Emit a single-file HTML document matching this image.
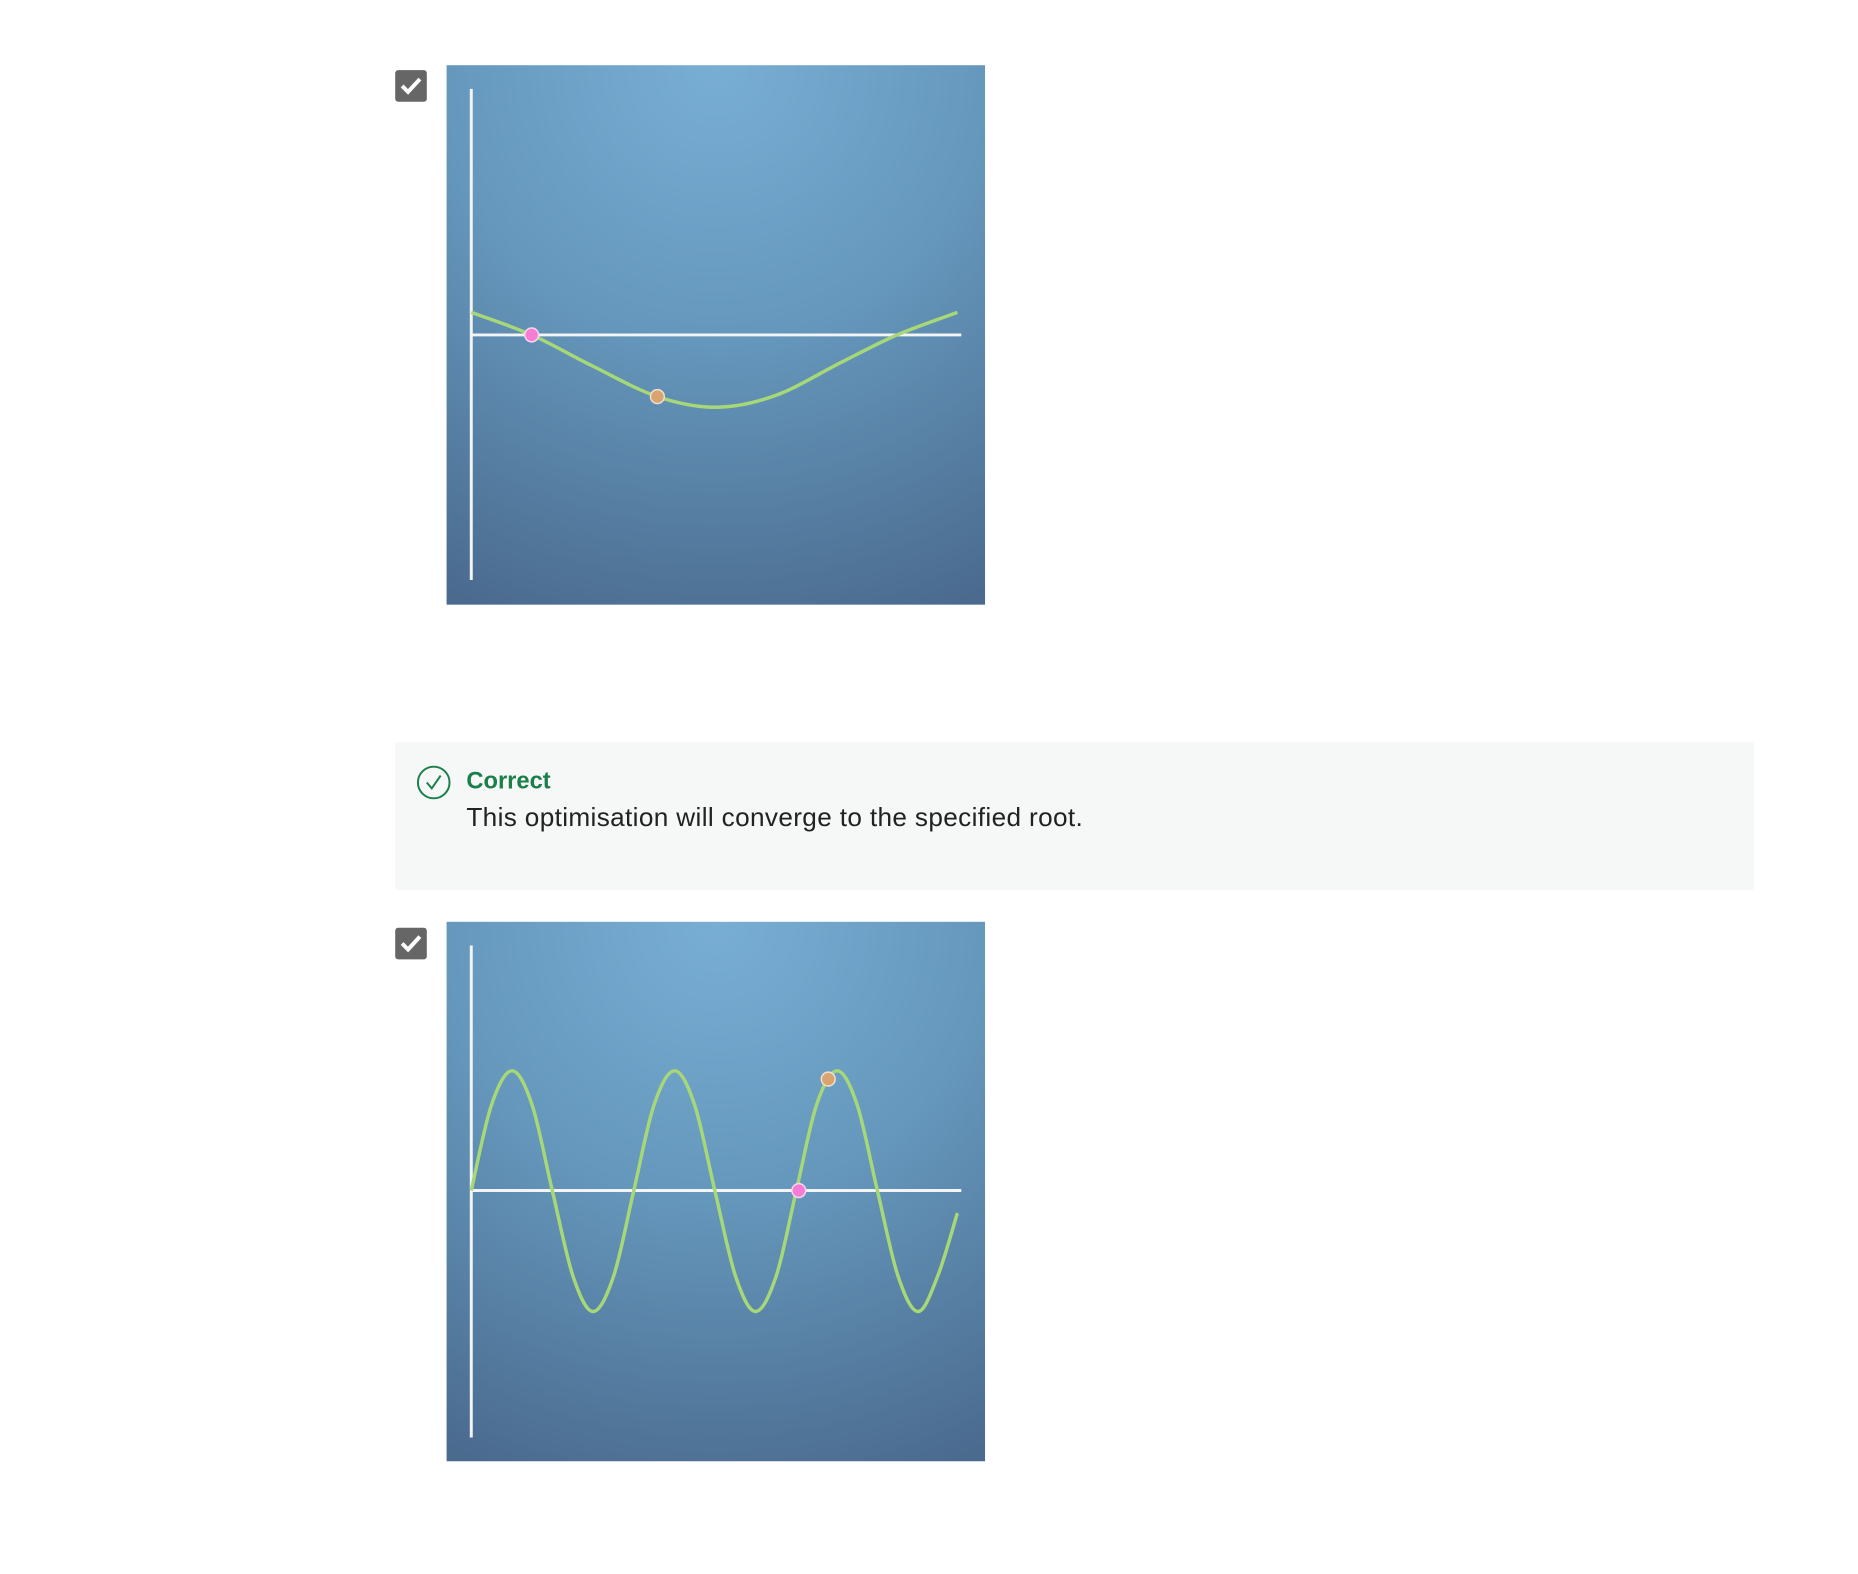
<!DOCTYPE html>
<html><head><meta charset="utf-8"><style>
body{margin:0;width:1858px;height:1574px;background:#fff;position:relative;overflow:hidden;font-family:"Liberation Sans",sans-serif}
#wrap{position:absolute;left:0;top:0;width:1858px;height:1574px;transform:scale(0.988);transform-origin:0 0}
.cb{position:absolute;left:400px;width:32px;height:32px;background:#666;border-radius:3px}
.chart{position:absolute;left:452px;width:545px;height:546px;background:radial-gradient(ellipse 110% 110% at 50% 0%,#79aed4 0%,#6698bd 45%,#4a6a8e 100%)}
.fb{position:absolute;left:400px;top:751px;width:1375px;height:150px;background:#f5f8f7}
</style></head><body>
<div id="wrap">
<div class="cb" style="top:71px"><svg width="32" height="32"><path d="M7 16 L13 22 L25 9" stroke="#fff" stroke-width="4" fill="none"/></svg></div>
<svg class="chart" id="c1" style="top:66px" width="545" height="546"></svg>
<div class="fb">
<svg style="position:absolute;left:21px;top:23px" width="36" height="36"><circle cx="18" cy="18" r="16" stroke="#1a7f4b" stroke-width="2" fill="none"/><path d="M11 18 L16 24 L25 11" stroke="#1a7f4b" stroke-width="2" fill="none"/></svg>
<div style="position:absolute;left:72px;top:26px;font-size:24px;font-weight:bold;color:#1a7f4b">Correct</div>
<div style="position:absolute;left:72px;top:61px;font-size:26.5px;color:#222;letter-spacing:0.35px">This optimisation will converge to the specified root.</div>
</div>
<div class="cb" style="top:939px"><svg width="32" height="32"><path d="M7 16 L13 22 L25 9" stroke="#fff" stroke-width="4" fill="none"/></svg></div>
<svg class="chart" id="c2" style="top:933px" width="545" height="546"></svg>
</div>
<script>
const c1X=[0,1.23,2.46,3.79,5,6.2,7.54,8.67,9.9];
const c1Y=[0.19,0,-0.26,-0.52,-0.61,-0.51,-0.23,0,0.19];
const c1Root=[1.23,0];
const c1Start=[3.79,-0.52];
const c2X=[0,0.41,0.83,1.24,1.65,2.07,2.48,2.9,3.31,3.72,4.14,4.55,4.96,5.38,5.79,6.21,6.62,7.03,7.45,7.86,8.27,8.69,9.1,9.5,9.9];
const c2Y=[0,0.72,1.01,0.72,0,-0.72,-1.02,-0.72,0,0.72,1.01,0.72,0,-0.72,-1.02,-0.72,0,0.72,1.01,0.72,0,-0.72,-1.02,-0.72,-0.19];
const c2Root=[6.67,0];
const c2Start=[7.27,0.94];
const NS='http://www.w3.org/2000/svg';
function draw(id,xs,ys,root,start,zeroY,top,bottom){
 const svg=document.getElementById(id);
 const sx=v=>25+v*49.7, sy=v=>zeroY-v*120;
 function add(tag,attrs){const e=document.createElementNS(NS,tag);for(const k in attrs)e.setAttribute(k,attrs[k]);svg.appendChild(e);return e;}
 const ya=add('line',{x1:25,x2:25,y1:top,y2:bottom,stroke:'#f2f4f6','stroke-width':3});
 
 
 const xa=add('line',{x1:25,x2:521,y1:zeroY,y2:zeroY,stroke:'#f2f4f6','stroke-width':3});
 
 
 const P=xs.map((x,i)=>[sx(x),sy(ys[i])]);
 let d='M'+P[0][0]+' '+P[0][1];
 for(let i=0;i<P.length-1;i++){const p0=P[Math.max(0,i-1)],p1=P[i],p2=P[i+1],p3=P[Math.min(P.length-1,i+2)];
  d+=` C${p1[0]+(p2[0]-p0[0])/6} ${p1[1]+(p2[1]-p0[1])/6} ${p2[0]-(p3[0]-p1[0])/6} ${p2[1]-(p3[1]-p1[1])/6} ${p2[0]} ${p2[1]}`;}
 const cv=add('path',{d:d,stroke:'#a7d877','stroke-width':3.5,fill:'none'});
 
 
 const r=add('circle',{cx:sx(root[0]),cy:sy(root[1]),r:7,fill:'#f77cd3',stroke:'#f3d8ee','stroke-width':1.5});
 
 
 const s=add('circle',{cx:sx(start[0]),cy:sy(start[1]),r:7,fill:'#d9a46f',stroke:'#efe0d0','stroke-width':1.5});
 
 
}
draw('c1',c1X,c1Y,c1Root,c1Start,273,24,521);
draw('c2',c2X,c2Y,c2Root,c2Start,272,24,522);
</script>
</body></html>
